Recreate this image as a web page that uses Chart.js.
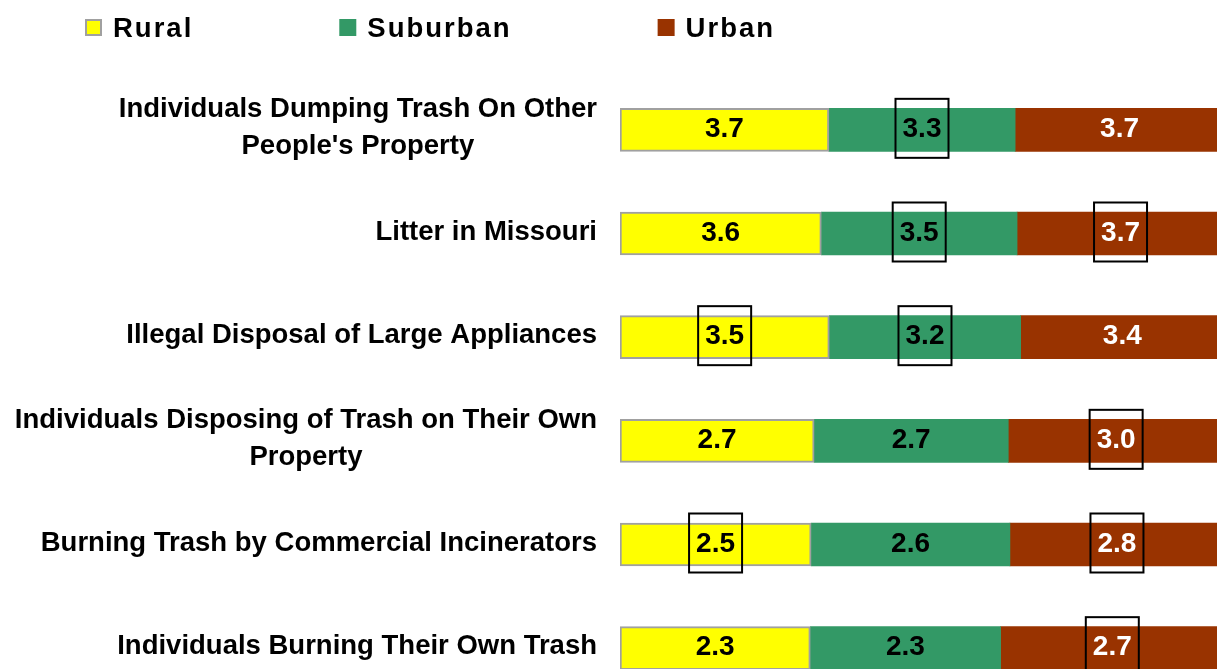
<!DOCTYPE html>
<html>
<head>
<meta charset="utf-8">
<script src="https://cdn.jsdelivr.net/npm/chart.js@4/dist/chart.umd.min.js"></script>
<style>
	html, body { margin: 0; padding: 0; background: #fff; overflow: hidden; }
	#wrap { width: 1217px; height: 669px; overflow: hidden; }
</style>
</head>
<body>
<div id="wrap"><canvas id="graficoLixo" width="1226" height="702"></canvas></div>
<script>
var categories = [
	['Individuals Dumping Trash On Other', "People's Property"],
	['Litter in Missouri'],
	['Illegal Disposal of Large Appliances'],
	['Individuals Disposing of Trash on Their Own', 'Property'],
	['Burning Trash by Commercial Incinerators'],
	['Individuals Burning Their Own Trash']
];
var seriesNames = ['Rural', 'Suburban', 'Urban'];
var rural    = [3.7, 3.6, 3.5, 2.7, 2.5, 2.3];
var suburban = [3.3, 3.5, 3.2, 2.7, 2.6, 2.3];
var urban    = [3.7, 3.7, 3.4, 3.0, 2.8, 2.7];
// which values have a box drawn round them
var ruralBoxed    = [false, false, true, false, true, false];
var suburbanBoxed = [true, true, true, false, false, false];
var urbanBoxed    = [false, true, false, true, true, true];

var FONT = '"Liberation Sans", Arial, sans-serif';

// 100% stacked: each row is split by its share of the total
function shares(values) {
	return values.map(function(v, i) {
		return v / (rural[i] + suburban[i] + urban[i]);
	});
}

var raw = [rural, suburban, urban];
var boxed = [ruralBoxed, suburbanBoxed, urbanBoxed];
var labelColors = ['#000', '#000', '#fff'];

var valueLabels = {
	id: 'valueLabels',
	afterDatasetsDraw: function(chart) {
		var ctx = chart.ctx;
		ctx.save();
		ctx.font = 'bold 28px ' + FONT;
		ctx.textAlign = 'center';
		ctx.textBaseline = 'alphabetic';
		chart.data.datasets.forEach(function(ds, d) {
			chart.getDatasetMeta(d).data.forEach(function(bar, i) {
				var cx = (bar.x + bar.base) / 2;
				var cy = bar.y;
				ctx.fillStyle = labelColors[d];
				ctx.fillText(raw[d][i].toFixed(1), cx, cy + 7);
				if (boxed[d][i]) {
					ctx.strokeStyle = '#000';
					ctx.lineWidth = 2;
					ctx.strokeRect(cx - 26.5, cy - 31, 53, 59);
				}
			});
		});
		ctx.restore();
	},
	afterDraw: function(chart) {
		var ctx = chart.ctx;
		var y = chart.scales.y;
		ctx.save();
		ctx.fillStyle = '#000';
		ctx.font = 'bold 27.5px ' + FONT;
		ctx.textBaseline = 'alphabetic';
		ctx.textAlign = 'center';
		// category labels: block right aligned, lines centred inside block
		categories.forEach(function(lines, i) {
			var cy = y.getPixelForValue(i);
			var w = 0;
			lines.forEach(function(l) { w = Math.max(w, ctx.measureText(l).width); });
			var cx = 597 - w / 2;
			var lh = 37;
			lines.forEach(function(l, k) {
				ctx.fillText(l, cx, cy + 6 + (k - (lines.length - 1) / 2) * lh);
			});
		});

		// legend
		ctx.font = 'bold 27.5px ' + FONT;
		ctx.letterSpacing = '2px';
		ctx.textAlign = 'left';
		var x = 85;
		chart.data.datasets.forEach(function(ds) {
			ctx.fillStyle = ds.backgroundColor;
			ctx.fillRect(x, 19, 17, 17);
			if (ds.borderWidth) {
				ctx.strokeStyle = ds.borderColor;
				ctx.lineWidth = 2;
				ctx.strokeRect(x + 1, 20, 15, 15);
			}
			ctx.fillStyle = '#000';
			ctx.fillText(ds.label, x + 28, 37);
			x += 28 + ctx.measureText(ds.label).width + 146;
		});
		ctx.restore();
	}
};

var grafico = new Chart(document.getElementById('graficoLixo').getContext('2d'), {
	type: 'bar',
	data: {
		labels: categories.map(function(c) { return c.join(' '); }),
		datasets: [{
			label: seriesNames[0],
			data: shares(rural),
			backgroundColor: '#FFFF00',
			borderColor: '#A0A0A0',
			borderWidth: 2,
			borderSkipped: false
		}, {
			label: seriesNames[1],
			data: shares(suburban),
			backgroundColor: '#339966',
			borderWidth: 0
		}, {
			label: seriesNames[2],
			data: shares(urban),
			backgroundColor: '#993300',
			borderWidth: 0
		}]
	},
	options: {
		indexAxis: 'y',
		responsive: false,
		animation: false,
		barThickness: 43,
		layout: { padding: { left: 620, right: 2, top: 78, bottom: 2 } },
		scales: {
			x: { stacked: true, min: 0, max: 1, display: false },
			y: { stacked: true, display: false }
		},
		plugins: {
			legend: { display: false },
			tooltip: { enabled: false }
		}
	},
	plugins: [valueLabels]
});
</script>
</body>
</html>
